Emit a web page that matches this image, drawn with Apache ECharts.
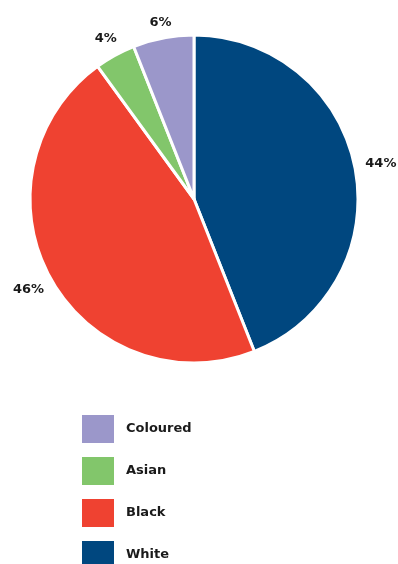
<!DOCTYPE html>
<html><head><meta charset="utf-8">
<script src="https://cdn.jsdelivr.net/npm/echarts@6/dist/echarts.min.js"></script>
<style>html,body{margin:0;padding:0;background:#fff}#c{width:398px;height:564px}</style>
</head><body><div id="c"></div>
<script>
const categories = ['White', 'Black', 'Asian', 'Coloured'];
const values = [44, 46, 4, 6];
const colors = ['#00477f', '#ef4231', '#82c66b', '#9b97ca'];
const legendOrder = ['Coloured', 'Asian', 'Black', 'White'];

const data = categories.map((n, i) => ({ name: n, value: values[i], itemStyle: { color: colors[i] } }));
const center = [194, 199];
const font = '"DejaVu Sans", sans-serif';
const total = values.reduce((a, b) => a + b, 0);
const midAngles = [];
{ let acc = 0; values.forEach(v => { midAngles.push((acc + v / 2) / total * 2 * Math.PI); acc += v; }); }

const chart = echarts.init(document.getElementById('c'), null, { renderer: 'canvas' });
chart.setOption({
  backgroundColor: '#ffffff',
  animation: false,
  legend: {
    orient: 'vertical', left: 82, top: 415, height: 200, padding: 0,
    itemWidth: 32, itemHeight: 28, itemGap: 14, icon: 'rect',
    itemStyle: { borderWidth: 0 },
    data: legendOrder,
    textStyle: { fontFamily: font, fontWeight: 'bold', fontSize: 13, color: '#1a1a1a', padding: [0, 0, 0, 7] }
  },
  series: [
    {
      type: 'pie', center: center, radius: [0, 164], startAngle: 90, clockwise: true,
      data: data,
      label: { show: true, position: 'inside', formatter: p => p.value + '%', fontFamily: font, fontWeight: 'bold', fontSize: 13, color: '#1a1a1a' },
      labelLine: { show: false },
      labelLayout: function (p) {
        const a = midAngles[p.dataIndex];
        const r = 176.5 + 14 * Math.abs(Math.sin(a));
        return { x: center[0] + r * Math.sin(a), y: center[1] - r * Math.cos(a), align: 'center', verticalAlign: 'middle' };
      },
      itemStyle: { borderColor: '#ffffff', borderWidth: 3 },
      emphasis: { disabled: true }
    }
  ]
});
</script></body></html>
